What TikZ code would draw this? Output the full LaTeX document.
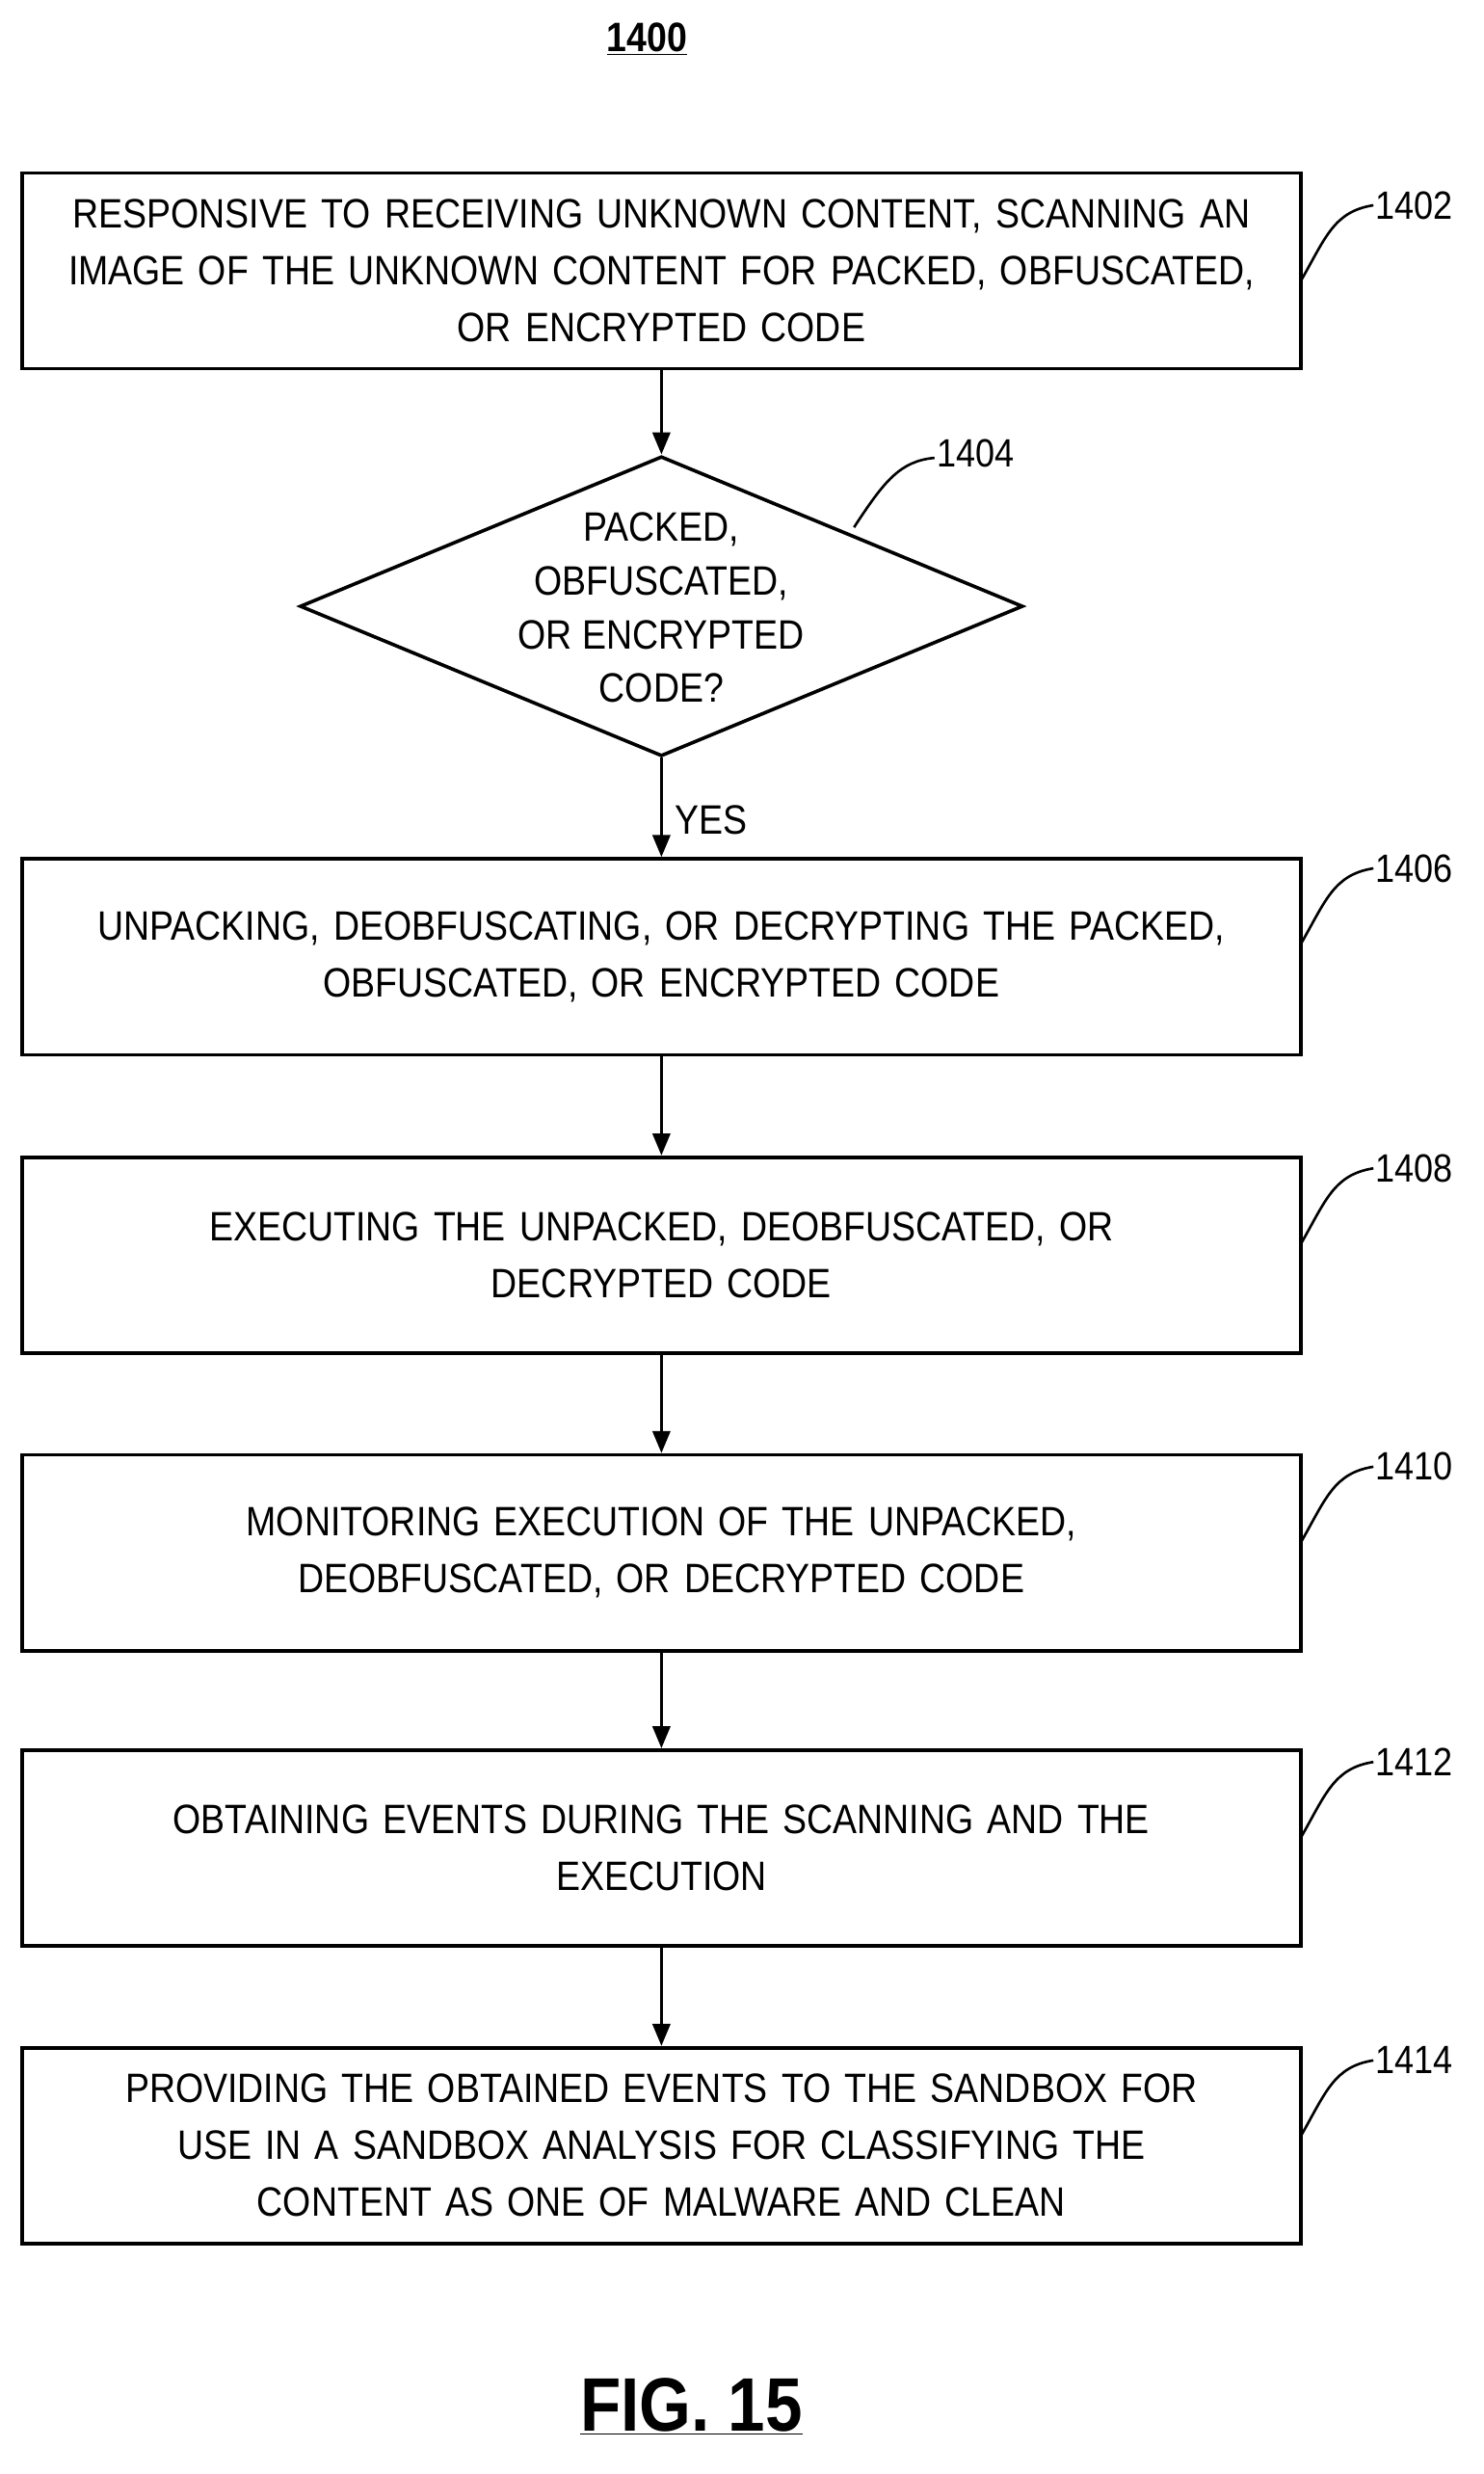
\documentclass[tikz,border=0pt]{standalone}
\usepackage{fontspec}
\setmainfont[FakeStretch=0.88]{Liberation Sans}
\usetikzlibrary{shapes.geometric,arrows.meta}
\begin{document}
\begin{tikzpicture}[x=1pt,y=-1pt,
 box/.style={draw,line width=2.2pt,minimum width=810pt,text width=800pt,minimum height=124pt,align=center,font=\fontsize{26}{36}\selectfont,inner sep=0pt},
 arr/.style={line width=2.2pt,-{Triangle[length=14pt,width=11pt]}},
 lead/.style={line width=1.6pt},
 lab/.style={font=\fontsize{25}{30}\selectfont,anchor=west}]
\useasboundingbox (0,0) rectangle (940,1567);
\node[font=\bfseries\fontsize{26}{30}\selectfont] (t) at (410,25) {\underline{1400}};
\node[box] (b1) at (419,171.5) {RESPONSIVE TO RECEIVING UNKNOWN CONTENT, SCANNING AN\\IMAGE OF THE UNKNOWN CONTENT FOR PACKED, OBFUSCATED,\\OR ENCRYPTED CODE};
\node[draw,line width=2.2pt,diamond,minimum width=458pt,minimum height=190pt,inner sep=0pt] (d) at (419,384) {};
\node[align=center,font=\fontsize{26}{34}\selectfont] at (419,385) {PACKED,\\OBFUSCATED,\\OR ENCRYPTED\\CODE?};
\node[box] (b2) at (419,606) {UNPACKING, DEOBFUSCATING, OR DECRYPTING THE PACKED,\\OBFUSCATED, OR ENCRYPTED CODE};
\node[box] (b3) at (419,795) {EXECUTING THE UNPACKED, DEOBFUSCATED, OR\\DECRYPTED CODE};
\node[box] (b4) at (419,983.5) {MONITORING EXECUTION OF THE UNPACKED,\\DEOBFUSCATED, OR DECRYPTED CODE};
\node[box] (b5) at (419,1170.5) {OBTAINING EVENTS DURING THE SCANNING AND THE\\EXECUTION};
\node[box] (b6) at (419,1359) {PROVIDING THE OBTAINED EVENTS TO THE SANDBOX FOR\\USE IN A SANDBOX ANALYSIS FOR CLASSIFYING THE\\CONTENT AS ONE OF MALWARE AND CLEAN};
\draw[arr] (b1) -- (d);
\draw[arr] (d) -- node[right,font=\fontsize{26}{30}\selectfont,xshift=4pt,yshift=-8pt]{YES} (b2);
\draw[arr] (b2) -- (b3);
\draw[arr] (b3) -- (b4);
\draw[arr] (b4) -- (b5);
\draw[arr] (b5) -- (b6);
\foreach \n/\y/\l in {b1/130/1402,b2/550/1406,b3/740/1408,b4/929/1410,b5/1116/1412,b6/1305/1414}{
 \coordinate (s\l) at (824,\y+48);
 \coordinate (e\l) at (870,\y);
 \draw[lead] (s\l) .. controls (840,\y+20) and (845,\y+4) .. (e\l);
 \node[lab] at (868,\y) {\l};
}
\coordinate (s1404) at (541,334);
\coordinate (e1404) at (592,290);
\draw[lead] (s1404) .. controls (560,305) and (570,292) .. (e1404);
\node[lab] at (590,287) {1404};
\node[font=\bfseries\fontsize{48}{54}\selectfont] (f) at (438,1524) {\underline{FIG. 15}};
\end{tikzpicture}
\end{document}
